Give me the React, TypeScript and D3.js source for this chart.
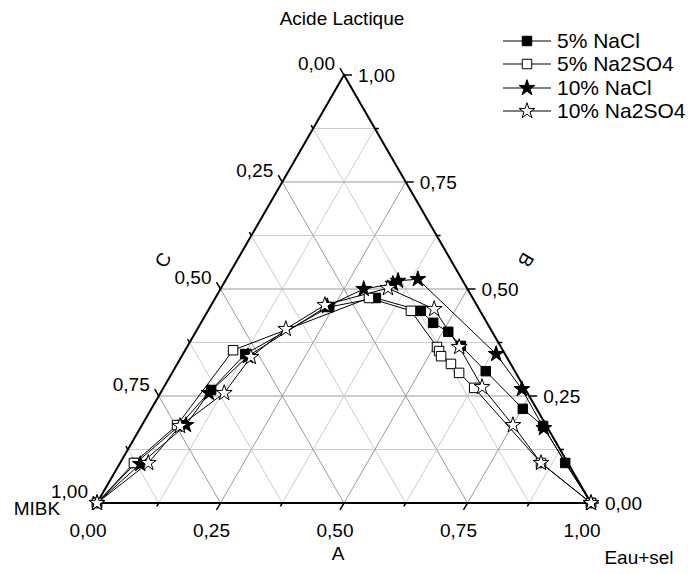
import React from 'react';
import * as d3 from 'd3';

// Compositions as [A (Eau+sel), B (Acide Lactique)]; C (MIBK) = 1 - A - B
const nacl5: [number, number][] = [
  [0, 0], [0.032, 0.0935], [0.077, 0.182], [0.099, 0.264], [0.126, 0.348],
  [0.241, 0.458], [0.325, 0.479], [0.431, 0.449], [0.47, 0.421], [0.511, 0.4],
  [0.553, 0.367], [0.633, 0.308], [0.752, 0.22], [0.813, 0.18], [0.901, 0.0935], [1, 0],
];
const na2so45: [number, number][] = [
  [0, 0], [0.028, 0.0935], [0.071, 0.182], [0.097, 0.357], [0.311, 0.479],
  [0.411, 0.449], [0.506, 0.3645], [0.515, 0.355], [0.525, 0.343], [0.554, 0.325],
  [0.581, 0.304], [0.629, 0.269], [0.852, 0.0935], [1, 0],
];
const nacl10: [number, number][] = [
  [0, 0], [0.042, 0.091], [0.089, 0.182], [0.098, 0.257], [0.134, 0.343],
  [0.236, 0.46], [0.29, 0.5], [0.343, 0.512], [0.35, 0.519], [0.388, 0.523],
  [0.634, 0.348], [0.727, 0.266], [0.817, 0.175], [1, 0],
];
const na2so410: [number, number][] = [
  [0, 0], [0.057, 0.0935], [0.078, 0.18], [0.129, 0.257], [0.141, 0.341],
  [0.179, 0.4065], [0.23, 0.4626], [0.338, 0.502], [0.456, 0.453], [0.551, 0.3645],
  [0.644, 0.271], [0.751, 0.182], [0.852, 0.0935], [1, 0],
];

const seriesNames = ['5% NaCl', '5% Na2SO4', '10% NaCl', '10% Na2SO4'];
const seriesData = [nacl5, na2so45, nacl10, na2so410];
const seriesSymbols = ['square', 'square', 'star', 'star'];
const seriesFilled = [true, false, true, false];

const majorTicks = [0, 0.25, 0.5, 0.75, 1];
const tickLabels = ['0,00', '0,25', '0,50', '0,75', '1,00'];
const gridSteps = d3.range(1, 8).map((i) => i / 8);
const allTicks = d3.range(0, 9).map((i) => i / 8);

const FONT = 'Liberation Sans, Arial, sans-serif';

// triangle frame
const left = { x: 97, y: 503 };
const right = { x: 591, y: 503 };
const topY = 75;

const xs = d3.scaleLinear().domain([0, 1]).range([left.x, right.x]);
const ys = d3.scaleLinear().domain([0, 1]).range([left.y, topY]);

const proj = (a: number, b: number): [number, number] => [xs(a + b / 2), ys(b)];

const SQ = Math.sqrt(3) / 2;

function Marker({ x, y, kind, filled }: { x: number; y: number; kind: string; filled: boolean }) {
  const sym = kind === 'square' ? d3.symbolSquare : d3.symbolStar;
  const size = kind === 'square' ? 90 : 78;
  const d = d3.symbol(sym, size)() as string;
  return (
    <path
      d={d}
      transform={`translate(${x},${y})`}
      fill={filled ? '#000' : '#fff'}
      stroke="#000"
      strokeWidth={1}
    />
  );
}

export default function App() {
  const line = d3.line<[number, number]>().x((d) => proj(d[0], d[1])[0]).y((d) => proj(d[0], d[1])[1]);

  const grid: React.ReactNode[] = [];
  gridSteps.forEach((v, i) => {
    const major = (i + 1) % 2 === 0;
    const col = major ? '#9a9a9a' : '#cdcdcd';
    const segs: [[number, number], [number, number]][] = [
      [proj(v, 0), proj(v, 1 - v)],
      [proj(0, v), proj(1 - v, v)],
      [proj(1 - v, 0), proj(0, 1 - v)],
    ];
    segs.forEach((s, j) => {
      grid.push(
        <line key={`g${i}-${j}`} x1={s[0][0]} y1={s[0][1]} x2={s[1][0]} y2={s[1][1]} stroke={col} strokeWidth={1} />
      );
    });
  });

  const ticks: React.ReactNode[] = [];
  allTicks.forEach((v, i) => {
    const len = i % 2 === 0 ? 8 : 4;
    // A axis (bottom)
    const [ax, ay] = proj(v, 0);
    ticks.push(<line key={`ta${i}`} x1={ax} y1={ay} x2={ax - 0.5 * len} y2={ay + SQ * len} stroke="#000" strokeWidth={1.5} />);
    // B axis (right)
    const [bx, by] = proj(1 - v, v);
    ticks.push(<line key={`tb${i}`} x1={bx} y1={by} x2={bx + len} y2={by} stroke="#000" strokeWidth={1.5} />);
    // C axis (left)
    const [cx, cy] = proj(0, 1 - v);
    ticks.push(<line key={`tc${i}`} x1={cx} y1={cy} x2={cx - 0.5 * len} y2={cy - SQ * len} stroke="#000" strokeWidth={1.5} />);
  });

  const labels: React.ReactNode[] = [];
  majorTicks.forEach((v, i) => {
    const [ax, ay] = proj(v, 0);
    labels.push(
      <text key={`la${i}`} x={ax - 9} y={ay + 34} textAnchor="middle">{tickLabels[i]}</text>
    );
    const [bx, by] = proj(1 - v, v);
    labels.push(
      <text key={`lb${i}`} x={bx + 14} y={by + 7} textAnchor="start">{tickLabels[i]}</text>
    );
    const [cx, cy] = proj(0, 1 - v);
    labels.push(
      <text key={`lc${i}`} x={cx - 9} y={cy - 5} textAnchor="end">{tickLabels[i]}</text>
    );
  });

  const T = proj(0, 1);
  const L = proj(0, 0);
  const R = proj(1, 0);

  const legendY = [41, 64, 88, 111];

  return (
    <svg
      width={690}
      height={574}
      style={{ position: 'absolute', left: 0, top: 0, background: '#fff' }}
      fontFamily={FONT}
      fontSize={19}
    >
      <rect width={690} height={574} fill="#fff" />
      {grid}
      {seriesData.map((s, k) => (
        <path key={`l${k}`} d={line(s) as string} fill="none" stroke="#000" strokeWidth={1} />
      ))}
      <path d={`M${L[0]},${L[1]}L${R[0]},${R[1]}L${T[0]},${T[1]}Z`} fill="none" stroke="#000" strokeWidth={2} />
      {ticks}
      {seriesData.map((s, k) =>
        s.map((d, j) => {
          const [x, y] = proj(d[0], d[1]);
          return <Marker key={`m${k}-${j}`} x={x} y={y} kind={seriesSymbols[k]} filled={seriesFilled[k]} />;
        })
      )}
      {labels}
      <text x={342} y={25} textAnchor="middle">Acide Lactique</text>
      <text x={338} y={560} textAnchor="middle">A</text>
      <text x={639} y={564} textAnchor="middle">Eau+sel</text>
      <text x={37} y={515} textAnchor="middle">MIBK</text>
      <text x={163} y={260} textAnchor="middle" dominantBaseline="central" transform="rotate(-60,163,260)">C</text>
      <text x={526} y={260} textAnchor="middle" dominantBaseline="central" transform="rotate(120,526,260)">B</text>
      {seriesNames.map((n, k) => (
        <g key={`lg${k}`}>
          <line x1={503} y1={legendY[k]} x2={551} y2={legendY[k]} stroke="#000" strokeWidth={1} />
          <Marker x={527} y={legendY[k]} kind={seriesSymbols[k]} filled={seriesFilled[k]} />
          <text x={557} y={legendY[k] + 7} fontSize={21}>{n}</text>
        </g>
      ))}
    </svg>
  );
}
